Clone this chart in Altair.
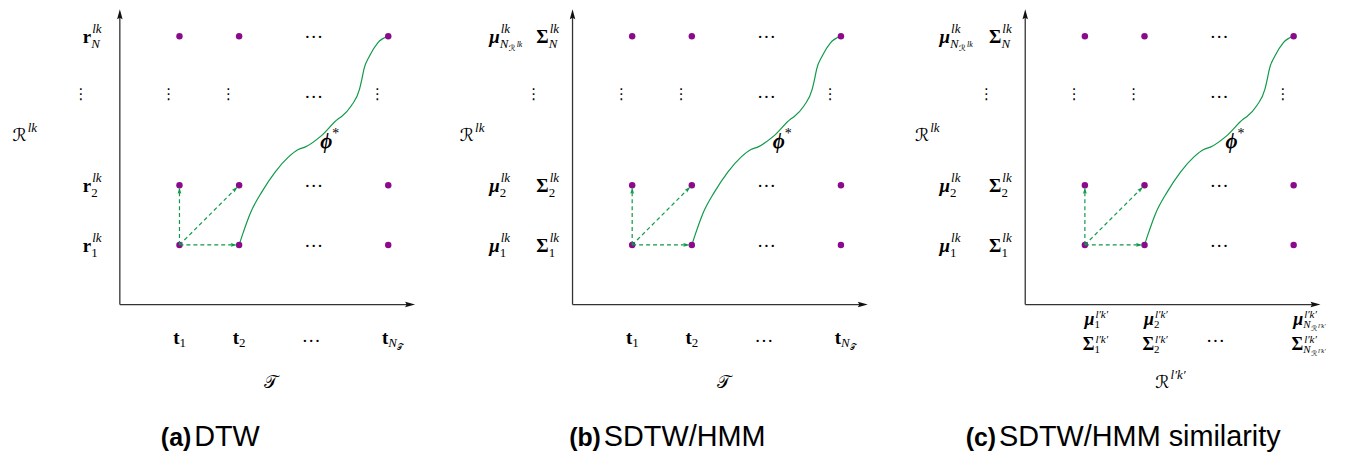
import math
import altair as alt
import pandas as pd

# ---------------- data (grid units: 1 = distance between first two columns) ----
PANELS = ["a", "b", "c"]
PANEL_SHIFT = 7.59          # horizontal distance between the three panels
AXIS_END = 4.95

GRID_COLS = [1, 2, 4.5]     # t1, t2, t_N
GRID_ROWS = [1, 2, 4.5]     # r1, r2, r_N
HDOTS_X = 3.25
HDOTS_ROWS = [1, 2, 3.5, 4.5]
VDOTS_Y = 3.53
VDOTS_X = [-0.65, 0.82, 1.82, 4.32]

STEP_FROM = (1, 1)
STEP_TO = [(1, 2), (2, 2), (2, 1)]

CURVE_X = [2.0, 2.064, 2.186, 2.381, 2.603, 2.825, 2.992, 3.103, 3.381, 3.658,
           3.714, 3.881, 4.019, 4.058, 4.092, 4.186, 4.325, 4.497]
CURVE_Y = [1.0, 1.194, 1.528, 1.889, 2.222, 2.472, 2.6, 2.639, 2.833, 3.111,
           3.15, 3.333, 3.611, 3.778, 3.944, 4.167, 4.389, 4.5]

PHI_POS = (3.46, 2.72)

ROW_SUBS = ["N", "2", "1"]          # subscripts of row labels (top to bottom)
COL_SUBS = ["1", "2", "N"]          # subscripts of column labels
ROWS_TOP_DOWN = [4.5, 2, 1]

LEFT_R_X = {"a": -1.56, "b": -1.65, "c": -1.61}
LEFT_R_Y = 2.85
ROW_LABEL_X_A = -0.48
MU_X = {"b": -1.22, "c": -1.26}
SIGMA_X = -0.40
BOTTOM_Y = -0.55
BOTTOM_DOTS = {"a": 3.21, "b": 3.21, "c": 3.19}
BOTTOM_DOTS_Y = -0.6
AXIS_TITLE = {"a": (2.54, -1.3), "b": (2.54, -1.3), "c": (2.42, -1.3)}
C_MU_Y, C_SIGMA_Y, C_DX = -0.27, -0.70, 0.16

CAPTION_X = {"a": 1.197, "b": 0.475, "c": -0.49}
CAPTION_Y = -2.375
CAPTION_BOLD = {"a": "(a)", "b": "(b)", "c": "(c)"}
CAPTION_TEXT = {"a": "DTW", "b": "SDTW/HMM", "c": "SDTW/HMM similarity"}

# ---------------- styles -------------------------------------------------------
SERIF = "Liberation Serif, DejaVu Serif"
CAL = "DejaVu Sans, Liberation Serif"
SANS = "Liberation Sans, Arial"
PURPLE = "#8b0a8b"
GREEN = "#0e9a48"
AXIS_COLOR = "#333333"
TEXT_COLOR = "#000000"

WIDTH, HEIGHT = 1350, 448
PX = 60.0
X0_PX, Y0_PX = 112.5, 297.0
XS = alt.Scale(domain=[-X0_PX / PX, (WIDTH - X0_PX) / PX], nice=False, zero=False)
YS = alt.Scale(domain=[-(HEIGHT - Y0_PX) / PX, Y0_PX / PX], nice=False, zero=False)

ARROW_PATH = "M0,-1L0.55,1L0,0.7L-0.55,1Z"

B, S, SS = 19, 13, 8.5
STYLES = {
    "bold": dict(font=SERIF, fontWeight="bold", fontSize=B, align="right", baseline="alphabetic", dy=7),
    "bolditalic": dict(font=SERIF, fontWeight="bold", fontStyle="italic", fontSize=B, align="right", baseline="alphabetic", dy=7),
    "cal": dict(font=CAL, fontSize=18, align="right", baseline="alphabetic", dy=6),
    "cal_c": dict(font=CAL, fontSize=18, align="center", baseline="alphabetic", dy=6),
    "sup": dict(font=SERIF, fontStyle="italic", fontSize=S, align="left", baseline="alphabetic", dy=-3, dx=1),
    "sub_n": dict(font=SERIF, fontSize=S, align="left", baseline="alphabetic", dy=12, dx=0),
    "sub_i": dict(font=SERIF, fontStyle="italic", fontSize=S, align="left", baseline="alphabetic", dy=12, dx=0),
    "lsub_n": dict(font=SERIF, fontSize=S, align="left", baseline="alphabetic", dy=10, dx=0),
    "lsub_i": dict(font=SERIF, fontStyle="italic", fontSize=S, align="left", baseline="alphabetic", dy=10, dx=0),
    "ssub": dict(font=CAL, fontSize=SS, align="left", baseline="alphabetic", dy=15, dx=9),
    "lssub": dict(font=CAL, fontSize=SS, align="left", baseline="alphabetic", dy=13, dx=9),
    "ssup": dict(font=SERIF, fontStyle="italic", fontSize=8, align="left", baseline="alphabetic", dy=11, dx=17),
    # compact two-line labels under panel (c)
    "c_bold": dict(font=SERIF, fontWeight="bold", fontSize=18, align="right", baseline="alphabetic", dy=4),
    "c_bolditalic": dict(font=SERIF, fontWeight="bold", fontStyle="italic", fontSize=18, align="right", baseline="alphabetic", dy=4),
    "c_sup": dict(font=SERIF, fontStyle="italic", fontSize=11, align="left", baseline="alphabetic", dy=-3, dx=1),
    "c_sub_n": dict(font=SERIF, fontSize=11, align="left", baseline="alphabetic", dy=7, dx=0),
    "c_sub_i": dict(font=SERIF, fontStyle="italic", fontSize=11, align="left", baseline="alphabetic", dy=7, dx=0),
    "c_ssub": dict(font=CAL, fontSize=7.5, align="left", baseline="alphabetic", dy=10, dx=8),
    "c_ssup": dict(font=SERIF, fontStyle="italic", fontSize=6.5, align="left", baseline="alphabetic", dy=7, dx=15),
    "hdots": dict(font=SERIF, fontSize=19, align="center", baseline="alphabetic", dy=2),
    "vdots": dict(font="DejaVu Sans", fontSize=15, align="center", baseline="middle"),
    "phi": dict(font=SERIF, fontStyle="italic", fontWeight="bold", fontSize=21, align="center", baseline="middle"),
    "star": dict(font=SERIF, fontSize=14, align="left", baseline="middle", dx=6, dy=-8),
    "cap_b": dict(font=SANS, fontWeight="bold", fontSize=25, align="right", baseline="alphabetic"),
    "cap": dict(font=SANS, fontSize=29, align="left", baseline="alphabetic", dx=3),
}

# ---------------- tables -------------------------------------------------------
def gx(panel, x):
    return x + PANELS.index(panel) * PANEL_SHIFT

texts = []


def put(panel, x, y, text, style):
    texts.append(dict(x=gx(panel, x), y=y, text=text, style=style))


def label(panel, x, y, base, bstyle, sup=None, sub=None, sub_style="sub_n", ssub=None, ssup=None,
          ssub_style="ssub", sup_style="sup", ssup_style="ssup"):
    put(panel, x, y, base, bstyle)
    if sup:
        put(panel, x, y, sup, sup_style)
    if sub:
        put(panel, x, y, sub, sub_style)
    if ssub:
        put(panel, x, y, ssub, ssub_style)
    if ssup:
        put(panel, x, y, ssup, ssup_style)


points, rules, heads, dashes, curve = [], [], [], [], []
for p in PANELS:
    for c in GRID_COLS:
        for r in GRID_ROWS:
            points.append(dict(x=gx(p, c), y=r))
    # axes
    ah = math.sqrt(100) / 2 / PX
    rules.append(dict(x=gx(p, 0), y=0, x2=gx(p, 0), y2=AXIS_END - ah))
    rules.append(dict(x=gx(p, 0), y=0, x2=gx(p, AXIS_END - ah), y2=0))
    heads.append(dict(x=gx(p, 0), y=AXIS_END - ah, angle=0, kind="axis"))
    heads.append(dict(x=gx(p, AXIS_END - ah), y=0, angle=90, kind="axis"))
    # dashed steps
    gh = math.sqrt(45) / 2 / PX
    for i, (tx, ty) in enumerate(STEP_TO):
        fx, fy = STEP_FROM
        dx, dy = tx - fx, ty - fy
        n = math.hypot(dx, dy)
        ux, uy = dx / n, dy / n
        tipx, tipy = tx - ux * 0.03, ty - uy * 0.03
        cx, cy = tipx - ux * gh, tipy - uy * gh
        bx, by = tipx - ux * 2 * gh * 0.85, tipy - uy * 2 * gh * 0.85
        ang = math.degrees(math.atan2(dx, dy))
        heads.append(dict(x=gx(p, cx), y=cy, angle=ang, kind="step"))
        dashes.append(dict(x=gx(p, fx), y=fy, id=f"{p}{i}", o=0))
        dashes.append(dict(x=gx(p, bx), y=by, id=f"{p}{i}", o=1))
    for k, (cx_, cy_) in enumerate(zip(CURVE_X, CURVE_Y)):
        curve.append(dict(x=gx(p, cx_), y=cy_, panel=p, o=k))
    # dots
    for r in HDOTS_ROWS:
        put(p, HDOTS_X, r, "\u2026", "hdots")
    for vx in VDOTS_X:
        put(p, vx, VDOTS_Y, "\u22ee", "vdots")
    put(p, PHI_POS[0], PHI_POS[1], "\u03d5", "phi")
    put(p, PHI_POS[0], PHI_POS[1], "*", "star")
    # left calligraphic R
    label(p, LEFT_R_X[p], LEFT_R_Y, "\u211b", "cal", sup="lk")
    # row labels
    for r, s in zip(ROWS_TOP_DOWN, ROW_SUBS):
        if p == "a":
            label(p, ROW_LABEL_X_A, r, "r", "bold", sup="lk", sub=s,
                  sub_style="sub_i" if s == "N" else "sub_n")
        else:
            if s == "N":
                label(p, MU_X[p], r, "\u03bc", "bolditalic", sup="lk", sub="N", sub_style="sub_i",
                      ssub="\u211b", ssup="lk")
            else:
                label(p, MU_X[p], r, "\u03bc", "bolditalic", sup="lk", sub=s)
            label(p, SIGMA_X, r, "\u03a3", "bold", sup="lk", sub=s,
                  sub_style="sub_i" if s == "N" else "sub_n")
    # column labels
    for c, s in zip(GRID_COLS, COL_SUBS):
        if p in ("a", "b"):
            if s == "N":
                label(p, c, BOTTOM_Y, "t", "bold", sub="N", sub_style="lsub_i",
                      ssub="\U0001d4af", ssub_style="lssub")
            else:
                label(p, c, BOTTOM_Y, "t", "bold", sub=s, sub_style="lsub_n")
        else:
            for yy, base, st in [(C_MU_Y, "\u03bc", "c_bolditalic"), (C_SIGMA_Y, "\u03a3", "c_bold")]:
                if s == "N":
                    label(p, c + C_DX, yy, base, st, sup="l\u2032k\u2032", sub="N", sub_style="c_sub_i",
                          ssub="\u211b", ssup="l\u2032k\u2032", ssub_style="c_ssub",
                          sup_style="c_sup", ssup_style="c_ssup")
                else:
                    label(p, c + C_DX, yy, base, st, sup="l\u2032k\u2032", sub=s,
                          sub_style="c_sub_n", sup_style="c_sup")
    put(p, BOTTOM_DOTS[p], BOTTOM_DOTS_Y, "\u2026", "hdots")
    tx_, ty_ = AXIS_TITLE[p]
    if p == "c":
        label(p, tx_, ty_, "\u211b", "cal", sup="l\u2032k\u2032")
    else:
        put(p, tx_, ty_, "\U0001d4af", "cal_c")
    put(p, CAPTION_X[p], CAPTION_Y, CAPTION_BOLD[p], "cap_b")
    put(p, CAPTION_X[p], CAPTION_Y, CAPTION_TEXT[p], "cap")

texts = pd.DataFrame(texts)
X = lambda f="x": alt.X(f"{f}:Q", scale=XS, axis=None)
Y = lambda f="y": alt.Y(f"{f}:Q", scale=YS, axis=None)

layers = []
layers.append(alt.Chart(pd.DataFrame(rules)).mark_rule(color=AXIS_COLOR, strokeWidth=1.3).encode(
    x=X(), y=Y(), x2="x2:Q", y2="y2:Q"))
layers.append(alt.Chart(pd.DataFrame(curve)).mark_line(color=GREEN, strokeWidth=1.2, interpolate="monotone").encode(
    x=X(), y=Y(), detail="panel:N", order="o:Q"))
layers.append(alt.Chart(pd.DataFrame(points)).mark_circle(color=PURPLE, size=42, opacity=1).encode(x=X(), y=Y()))
layers.append(alt.Chart(pd.DataFrame(dashes)).mark_line(color=GREEN, strokeWidth=1.2, strokeDash=[4, 3]).encode(
    x=X(), y=Y(), detail="id:N", order="o:Q"))
hd = pd.DataFrame(heads)
layers.append(alt.Chart(hd[hd.kind == "axis"]).mark_point(shape=ARROW_PATH, filled=True, color="#111", size=100, opacity=1).encode(
    x=X(), y=Y(), angle=alt.Angle("angle:Q", scale=None)))
layers.append(alt.Chart(hd[hd.kind == "step"]).mark_point(shape=ARROW_PATH, filled=True, color=GREEN, size=45, opacity=1).encode(
    x=X(), y=Y(), angle=alt.Angle("angle:Q", scale=None)))
for st, props in STYLES.items():
    sub = texts[texts["style"] == st]
    if len(sub) == 0:
        continue
    layers.append(alt.Chart(sub).mark_text(color=TEXT_COLOR, **props).encode(x=X(), y=Y(), text="text:N"))

chart = alt.layer(*layers).properties(
    width=WIDTH, height=HEIGHT, autosize=alt.AutoSizeParams(type="none"), padding=0
).configure_view(stroke=None)

chart.save("out.html", embed_options={"renderer": "svg", "actions": False})
